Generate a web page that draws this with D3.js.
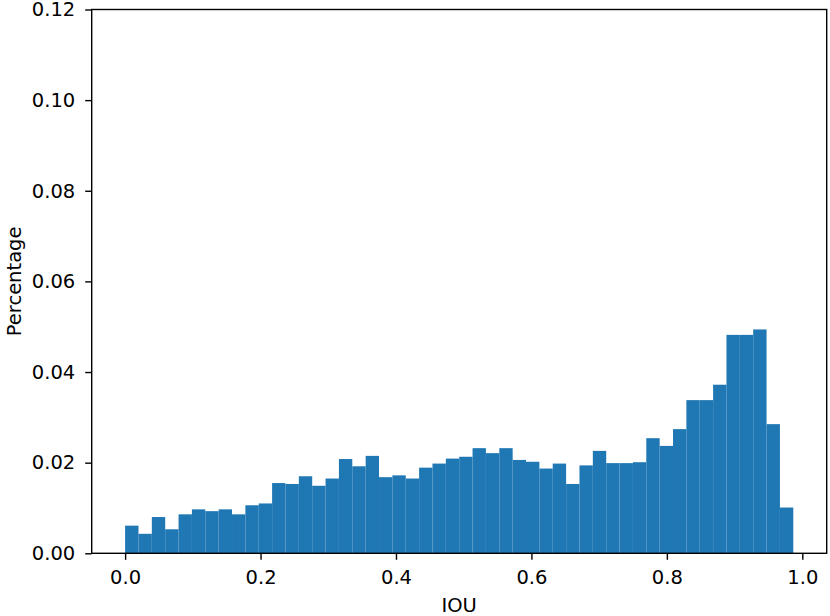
<!DOCTYPE html>
<html>
<head>
<meta charset="utf-8">
<script src="https://cdn.jsdelivr.net/npm/d3@7"></script>
<style>
  body { margin: 0; background: #fff; }
  svg text { font-family: "DejaVu Sans", sans-serif; fill: #000; }
</style>
</head>
<body>
<div id="plot"></div>
<script>
// histogram of IOU, 50 bins from 0 to ~0.987
let binStart = 0.0;
let binEnd = 0.9867;
let percentages = [
    0.0061, 0.0043, 0.0080, 0.0053, 0.0086, 0.0097, 0.0093, 0.0097, 0.0086, 0.0106,
    0.0110, 0.0155, 0.0153, 0.0170, 0.0149, 0.0165, 0.0208, 0.0192, 0.0215, 0.0168,
    0.0172, 0.0165, 0.0189, 0.0198, 0.0209, 0.0213, 0.0232, 0.0221, 0.0232, 0.0206,
    0.0202, 0.0187, 0.0198, 0.0153, 0.0194, 0.0226, 0.0199, 0.0199, 0.0201, 0.0254,
    0.0237, 0.0274, 0.0338, 0.0338, 0.0372, 0.0482, 0.0482, 0.0494, 0.0285, 0.0101
];
let xTicks = [0.0, 0.2, 0.4, 0.6, 0.8, 1.0];
let yTicks = [0.00, 0.02, 0.04, 0.06, 0.08, 0.10, 0.12];

function renderPlot() {
    let width = 830, height = 616;
    let left = 91.7, right = 826.7, top = 9.5, bottom = 553.3;
    let fontSize = "19.5px";

    let binW = (binEnd - binStart) / percentages.length;
    let bins = percentages.map((p, i) => ({x0: binStart + i * binW, x1: binStart + (i + 1) * binW, value: p}));

    let pad = (binEnd - binStart) * 0.05;
    let xScale = d3.scaleLinear().domain([binStart - pad, binEnd + pad]).range([left, right]);
    let yScale = d3.scaleLinear().domain([0, 0.12]).range([bottom, top]);

    let svg = d3.select("#plot").append("svg")
        .attr("width", width)
        .attr("height", height);

    svg.selectAll("rect.bar")
        .data(bins)
        .enter()
        .append("rect")
        .attr("class", "bar")
        .attr("x", d => xScale(d.x0))
        .attr("width", d => xScale(d.x1) - xScale(d.x0))
        .attr("y", d => yScale(d.value))
        .attr("height", d => yScale(0) - yScale(d.value))
        .style("fill", "#1f77b4");

    let xAxis = d3.axisBottom(xScale).tickValues(xTicks).tickFormat(d3.format(".1f")).tickSizeOuter(0).tickSize(6.5).tickPadding(10);
    let yAxis = d3.axisLeft(yScale).tickValues(yTicks).tickFormat(d3.format(".2f")).tickSizeOuter(0).tickSize(6.5).tickPadding(10);

    let gx = svg.append("g").attr("transform", `translate(0,${bottom})`).call(xAxis);
    let gy = svg.append("g").attr("transform", `translate(${left},0)`).call(yAxis);
    [gx, gy].forEach(g => {
        g.select(".domain").remove();
        g.selectAll(".tick line").attr("stroke", "#000").attr("stroke-width", 1.4);
        g.selectAll(".tick text").style("font-size", fontSize);
    });

    // spines
    svg.append("rect")
        .attr("x", left).attr("y", top)
        .attr("width", right - left).attr("height", bottom - top)
        .style("fill", "none").style("stroke", "#000").style("stroke-width", 1.4);

    svg.append("text")
        .attr("x", (left + right) / 2)
        .attr("y", 611.5)
        .attr("text-anchor", "middle")
        .style("font-size", fontSize)
        .text("IOU");

    svg.append("text")
        .attr("transform", `translate(20.5,${(top + bottom) / 2}) rotate(-90)`)
        .attr("text-anchor", "middle")
        .style("font-size", fontSize)
        .text("Percentage");
}
renderPlot();
</script>
</body>
</html>
